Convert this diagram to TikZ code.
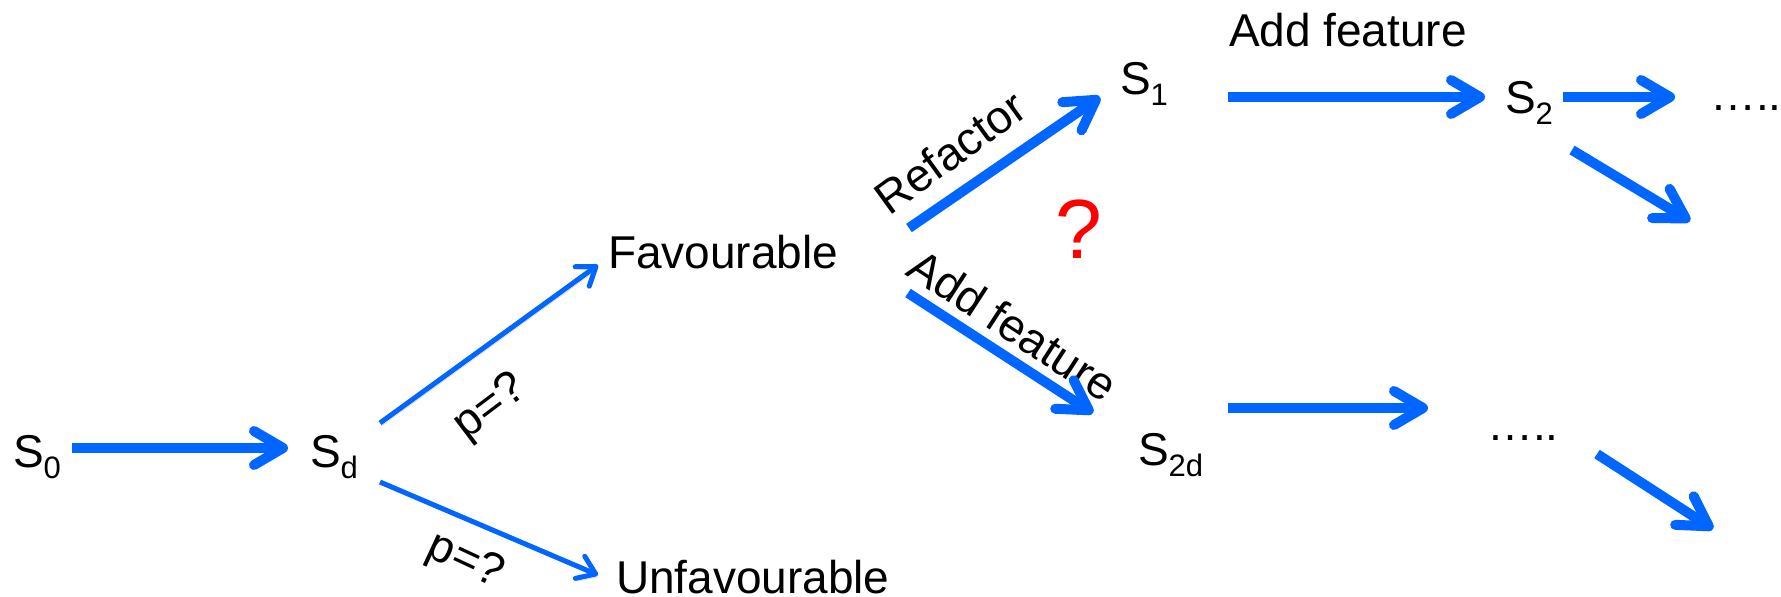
\documentclass[tikz,border=0pt]{standalone}
\usepackage{fontspec}
\setmainfont{Liberation Sans}
\usetikzlibrary{arrows.meta}
\definecolor{arrblue}{RGB}{0,102,255}
\newcommand\fsz[1]{\fontsize{#1}{#1}\selectfont}
\newcommand\subs[1]{\raisebox{-11pt}{\fsz{31}#1}}
\begin{document}
\begin{tikzpicture}[x=1pt,y=-1pt,
  lbl/.style={inner sep=0pt, outer sep=0pt, font=\fsz{46}},
  shadowed/.style={preaction={draw=black, opacity=0.18, transform canvas={xshift=1.5pt,yshift=-3pt}}},
  thickarrow/.style={draw=arrblue, line width=10pt, shadowed, -{Straight Barb[length=29pt,width=34pt,round]}},
  thinarrow/.style={draw=arrblue, line width=5pt, shadowed, -{Straight Barb[length=17pt,width=24pt,round]}},
]
\useasboundingbox (0,0) rectangle (1781,597);
\fill[white] (0,0) rectangle (1781,597);

% text nodes
\node[lbl, anchor=base west] (S0) at (13,467) {S\subs{0}};
\node[lbl, anchor=base west] (Sd) at (310,467) {S\subs{d}};
\node[lbl, anchor=base west] (fav) at (608,268) {Favourable};
\node[lbl, anchor=base west] (unfav) at (616,593) {Unfavourable};
\node[lbl, anchor=base west] (S1) at (1120,94) {S\subs{1}};
\node[lbl, anchor=base west] (S2) at (1505,113) {S\subs{2}};
\node[lbl, anchor=base west] (S2d) at (1138,465) {S\subs{2d}};
\node[lbl, anchor=base west] (dotsA) at (1710,110) {…..};
\node[lbl, anchor=base west] (dotsB) at (1487,440) {…..};
\node[lbl, anchor=base west] (addtop) at (1229,46) {Add feature};
\node[lbl, rotate=36] (refl) at (950,152) {Refactor};
\node[lbl, rotate=-33] (addl) at (1013,325) {Add feature};
\node[lbl, rotate=37] (pA) at (491,408) {p=?};
\node[lbl, rotate=-25] (pB) at (465,562) {p=?};
\node[lbl, font=\fsz{84}, text=red, anchor=base] (q) at (1079,258) {?};

% connector end points
\coordinate (S0out) at (72,448);
\coordinate (Sdin) at (288,448);
\coordinate (Sdup) at (380,423);
\coordinate (favin) at (598,265);
\coordinate (Sddown) at (380,482);
\coordinate (unfavin) at (598,575);
\coordinate (favup) at (909,228);
\coordinate (S1in) at (1100,97);
\coordinate (favdown) at (908,293);
\coordinate (S2din) at (1093,413);
\coordinate (S1out) at (1228,97);
\coordinate (S2in) at (1485,97);
\coordinate (S2out) at (1563,97);
\coordinate (dotsAin) at (1675,97);
\coordinate (S2down) at (1572,150);
\coordinate (S2downend) at (1690,221);
\coordinate (S2dout) at (1228,408);
\coordinate (dotsBin) at (1428,408);
\coordinate (dotsBdown) at (1597,454);
\coordinate (dotsBdownend) at (1713,529);

% connectors
\draw[thickarrow] (S0out) -- (Sdin);
\draw[thinarrow] (Sdup) -- (favin);
\draw[thinarrow] (Sddown) -- (unfavin);
\draw[thickarrow] (favup) -- (S1in);
\draw[thickarrow] (favdown) -- (S2din);
\draw[thickarrow] (S1out) -- (S2in);
\draw[thickarrow] (S2out) -- (dotsAin);
\draw[thickarrow] (S2down) -- (S2downend);
\draw[thickarrow] (S2dout) -- (dotsBin);
\draw[thickarrow] (dotsBdown) -- (dotsBdownend);
\end{tikzpicture}
\end{document}
